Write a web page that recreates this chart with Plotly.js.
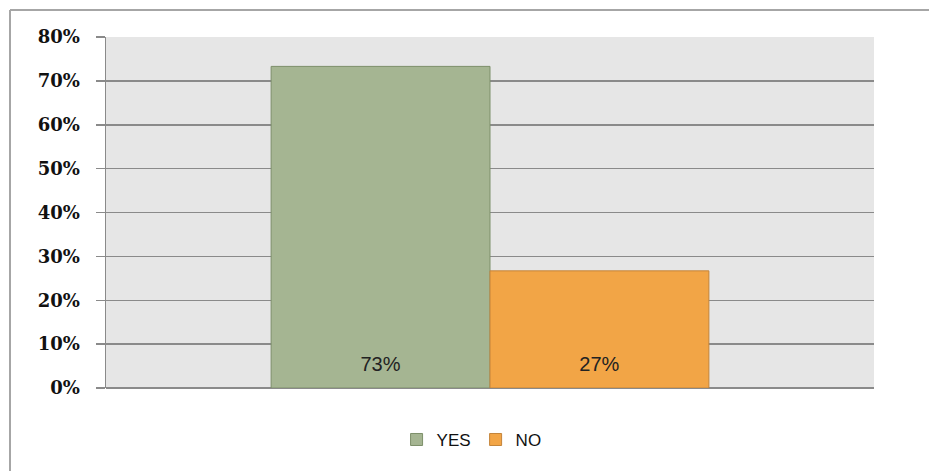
<!DOCTYPE html>
<html>
<head>
<meta charset="utf-8">
<script src="https://cdn.plot.ly/plotly-3.0.1.min.js"></script>
<style>html,body{margin:0;padding:0;background:#fff;}#chart{width:929px;height:471px;}</style>
</head>
<body>
<div id="chart"></div>
<script>
const categories = [""];
const seriesNames = ["YES", "NO"];
const yesValues = [0.733];
const noValues = [0.267];
const yesLabels = ["73%"];
const noLabels = ["27%"];
const yTickVals = [0, 0.1, 0.2, 0.3, 0.4, 0.5, 0.6, 0.7, 0.8];
const yTickText = ["0%", "10%", "20%", "30%", "40%", "50%", "60%", "70%", "80%"];

const labelFont = {family: "Liberation Sans, Arial, sans-serif", size: 20, color: "#222"};
// a tiny blank superscript line lifts the label slightly off the bar base
const padLabel = s => s + "<br><sup><sup> </sup></sup>";

const traces = [
  {
    type: "bar", name: seriesNames[0], x: categories, y: yesValues,
    text: yesLabels.map(padLabel), textposition: "inside", insidetextanchor: "start",
    textfont: labelFont, hoverinfo: "none",
    marker: {color: "#a5b592", line: {color: "#7d8f6a", width: 1}}
  },
  {
    type: "bar", name: seriesNames[1], x: categories, y: noValues,
    text: noLabels.map(padLabel), textposition: "inside", insidetextanchor: "start",
    textfont: labelFont, hoverinfo: "none",
    marker: {color: "#f2a546", line: {color: "#c4843a", width: 1}}
  }
];

const layout = {
  width: 929, height: 471,
  margin: {l: 106, r: 55, t: 37, b: 83},
  paper_bgcolor: "#ffffff",
  plot_bgcolor: "#e6e6e6",
  barmode: "group",
  bargap: 0.43,
  bargroupgap: 0,
  showlegend: true,
  legend: {
    orientation: "h", x: 0.476, xanchor: "center", y: -0.148, yanchor: "middle",
    font: {family: "Liberation Sans, Arial, sans-serif", size: 17, color: "#111"},
    itemwidth: 30, traceorder: "normal"
  },
  xaxis: {
    showticklabels: false, showgrid: false, zeroline: false,
    showline: false, ticks: "", fixedrange: true
  },
  yaxis: {
    range: [0, 0.8], tickvals: yTickVals, ticktext: yTickText,
    showgrid: true, gridcolor: "#8a8a8a", gridwidth: 1.5,
    zeroline: true, zerolinecolor: "#8a8a8a", zerolinewidth: 1.5,
    showline: true, linecolor: "#8a8a8a", linewidth: 1.5,
    ticks: "outside", ticklen: 9, tickcolor: "#8a8a8a", tickwidth: 1.5,
    ticklabelstandoff: 12,
    tickfont: {family: "DejaVu Serif, serif", size: 18, color: "#111", weight: "bold"},
    fixedrange: true
  },
  shapes: [
    {type: "line", xref: "paper", yref: "paper", x0: (10 - 106) / 768, x1: (929 - 106) / 768, y0: (471 - 83 - 10) / 351, y1: (471 - 83 - 10) / 351, line: {color: "#a6a6a6", width: 2}},
    {type: "line", xref: "paper", yref: "paper", x0: (10 - 106) / 768, x1: (10 - 106) / 768, y0: (471 - 83 - 10) / 351, y1: -83 / 351, line: {color: "#a6a6a6", width: 2}}
  ]
};

Plotly.newPlot("chart", traces, layout, {displayModeBar: false, staticPlot: true});
</script>
</body>
</html>
